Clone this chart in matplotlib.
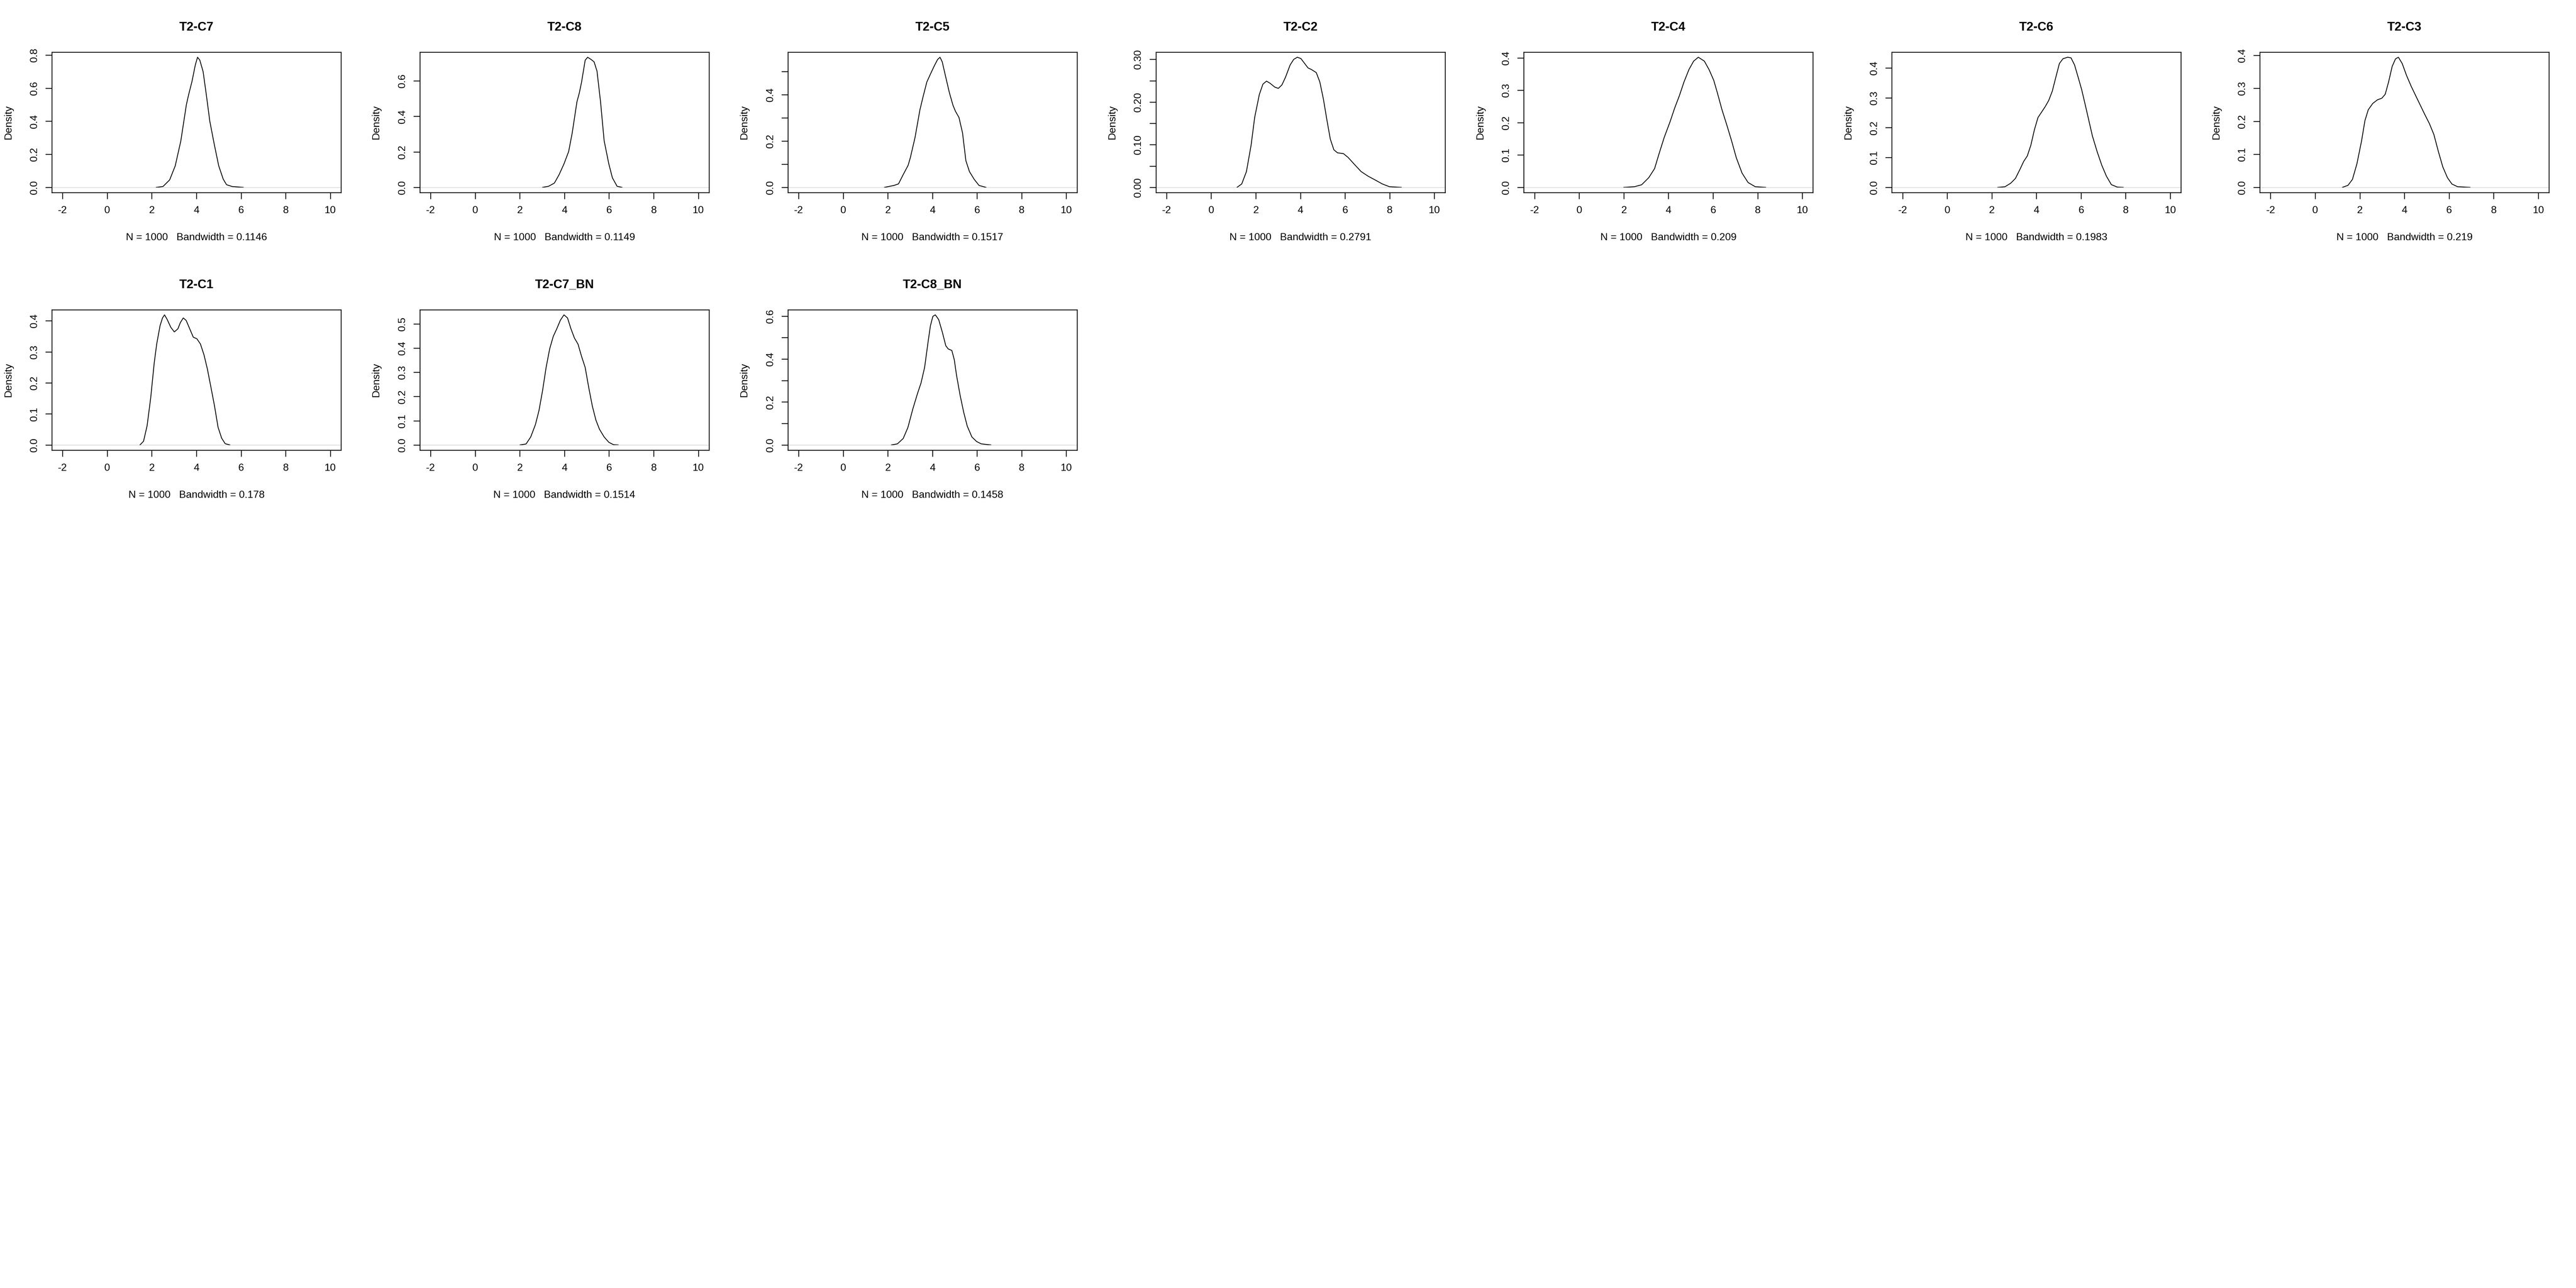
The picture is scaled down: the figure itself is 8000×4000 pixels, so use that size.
import matplotlib
matplotlib.use('Agg')
import matplotlib.pyplot as plt

plt.rcParams['font.family'] = ['Liberation Sans', 'DejaVu Sans']

names = ['T2-C7', 'T2-C8', 'T2-C5', 'T2-C2', 'T2-C4', 'T2-C6', 'T2-C3',
         'T2-C1', 'T2-C7_BN', 'T2-C8_BN']
n_obs = 1000
bandwidths = ['0.1146', '0.1149', '0.1517', '0.2791', '0.209', '0.1983', '0.219',
              '0.178', '0.1514', '0.1458']

# density curves
c7_x = [2.2, 2.5, 2.8, 3.05, 3.3, 3.55, 3.65, 3.8, 3.95, 4.05, 4.15, 4.3, 4.45, 4.6, 4.8, 5.0, 5.2, 5.35, 5.6, 6.1]
c7_y = [0.0, 0.005, 0.045, 0.13, 0.28, 0.5, 0.56, 0.64, 0.74, 0.787, 0.77, 0.70, 0.554, 0.40, 0.26, 0.13, 0.05, 0.016, 0.005, 0.0]

c8_x = [3.02, 3.29, 3.55, 3.76, 3.98, 4.19, 4.35, 4.56, 4.67, 4.77, 4.93, 5.04, 5.2, 5.33, 5.46, 5.62, 5.78, 5.99, 6.15, 6.36, 6.58]
c8_y = [0.0, 0.006, 0.024, 0.071, 0.132, 0.202, 0.307, 0.481, 0.533, 0.594, 0.716, 0.733, 0.72, 0.707, 0.655, 0.481, 0.263, 0.132, 0.054, 0.006, 0.0]

c5_x = [1.85, 2.27, 2.48, 2.69, 2.91, 3.01, 3.22, 3.44, 3.59, 3.75, 3.91, 4.07, 4.23, 4.34, 4.44, 4.6, 4.76, 4.92, 5.03, 5.19, 5.35, 5.5, 5.66, 5.87, 6.09, 6.4]
c5_y = [0.0, 0.008, 0.015, 0.055, 0.095, 0.128, 0.215, 0.335, 0.395, 0.455, 0.489, 0.522, 0.552, 0.562, 0.542, 0.475, 0.409, 0.355, 0.329, 0.302, 0.235, 0.115, 0.068, 0.035, 0.008, 0.0]

c2_x = [1.16, 1.37, 1.58, 1.79, 1.95, 2.16, 2.32, 2.48, 2.64, 2.85, 3.01, 3.17, 3.33, 3.54, 3.7, 3.86, 4.02, 4.18, 4.34, 4.5, 4.71, 4.87, 5.03, 5.19, 5.34, 5.5, 5.66, 5.93, 6.14, 6.4, 6.72, 7.04, 7.36, 7.67, 7.99, 8.52]
c2_y = [0.0, 0.008, 0.037, 0.099, 0.164, 0.218, 0.242, 0.249, 0.244, 0.235, 0.232, 0.24, 0.258, 0.287, 0.3, 0.305, 0.302, 0.291, 0.28, 0.276, 0.269, 0.247, 0.207, 0.157, 0.113, 0.088, 0.081, 0.079, 0.07, 0.055, 0.037, 0.026, 0.017, 0.008, 0.0015, 0.0]

c4_x = [2.0, 2.48, 2.8, 3.12, 3.38, 3.59, 3.81, 4.07, 4.28, 4.49, 4.7, 4.92, 5.13, 5.34, 5.61, 5.82, 6.03, 6.19, 6.4, 6.62, 6.83, 7.04, 7.3, 7.57, 7.89, 8.36]
c4_y = [0.0, 0.002, 0.008, 0.03, 0.058, 0.106, 0.154, 0.202, 0.245, 0.283, 0.326, 0.364, 0.39, 0.402, 0.39, 0.364, 0.331, 0.293, 0.24, 0.192, 0.144, 0.092, 0.044, 0.015, 0.002, 0.0]

c6_x = [2.27, 2.59, 2.85, 3.06, 3.28, 3.43, 3.59, 3.75, 3.91, 4.07, 4.23, 4.39, 4.55, 4.71, 4.87, 5.03, 5.19, 5.4, 5.55, 5.71, 5.87, 6.03, 6.19, 6.35, 6.51, 6.72, 6.93, 7.14, 7.36, 7.62, 7.89]
c6_y = [0.0, 0.002, 0.014, 0.03, 0.063, 0.087, 0.105, 0.141, 0.193, 0.234, 0.252, 0.27, 0.291, 0.322, 0.369, 0.415, 0.431, 0.436, 0.434, 0.41, 0.369, 0.327, 0.276, 0.224, 0.172, 0.12, 0.074, 0.037, 0.009, 0.001, 0.0]

c3_x = [1.22, 1.47, 1.67, 1.87, 2.08, 2.23, 2.38, 2.58, 2.79, 2.99, 3.14, 3.29, 3.45, 3.6, 3.73, 3.9, 4.1, 4.31, 4.51, 4.71, 4.91, 5.12, 5.32, 5.52, 5.72, 5.93, 6.13, 6.38, 6.94]
c3_y = [0.0, 0.006, 0.024, 0.071, 0.141, 0.202, 0.235, 0.254, 0.265, 0.27, 0.282, 0.319, 0.366, 0.389, 0.394, 0.375, 0.338, 0.305, 0.277, 0.249, 0.221, 0.193, 0.16, 0.109, 0.062, 0.029, 0.01, 0.002, 0.0]

c1_x = [1.47, 1.63, 1.79, 1.95, 2.11, 2.22, 2.37, 2.48, 2.57, 2.69, 2.85, 3.01, 3.17, 3.28, 3.41, 3.54, 3.7, 3.86, 4.02, 4.18, 4.34, 4.49, 4.65, 4.81, 4.97, 5.13, 5.29, 5.5]
c1_y = [0.0, 0.012, 0.062, 0.151, 0.265, 0.325, 0.384, 0.409, 0.419, 0.404, 0.379, 0.364, 0.374, 0.394, 0.409, 0.401, 0.374, 0.347, 0.342, 0.325, 0.29, 0.245, 0.186, 0.126, 0.057, 0.022, 0.004, 0.0]

c7bn_x = [2.01, 2.28, 2.49, 2.7, 2.86, 3.02, 3.18, 3.34, 3.5, 3.66, 3.82, 3.98, 4.14, 4.29, 4.45, 4.61, 4.77, 4.93, 5.09, 5.25, 5.41, 5.57, 5.78, 5.99, 6.2, 6.41]
c7bn_y = [0.0, 0.004, 0.033, 0.084, 0.142, 0.224, 0.32, 0.397, 0.448, 0.48, 0.515, 0.537, 0.524, 0.48, 0.441, 0.416, 0.365, 0.32, 0.237, 0.161, 0.103, 0.065, 0.033, 0.011, 0.001, 0.0]

c8bn_x = [2.16, 2.43, 2.69, 2.9, 3.12, 3.33, 3.49, 3.65, 3.81, 3.91, 4.02, 4.13, 4.28, 4.44, 4.6, 4.71, 4.87, 4.98, 5.08, 5.24, 5.4, 5.56, 5.77, 5.98, 6.19, 6.62]
c8bn_y = [0.0, 0.005, 0.03, 0.081, 0.167, 0.239, 0.289, 0.361, 0.483, 0.555, 0.599, 0.606, 0.584, 0.527, 0.462, 0.447, 0.44, 0.397, 0.325, 0.232, 0.153, 0.088, 0.037, 0.016, 0.005, 0.0]

curves_x = [c7_x, c8_x, c5_x, c2_x, c4_x, c6_x, c3_x, c1_x, c7bn_x, c8bn_x]
curves_y = [c7_y, c8_y, c5_y, c2_y, c4_y, c6_y, c3_y, c1_y, c7bn_y, c8bn_y]

xticks = [-2, 0, 2, 4, 6, 8, 10]
yticks = [
    [0, 0.2, 0.4, 0.6, 0.8],
    [0, 0.2, 0.4, 0.6],
    [0, 0.1, 0.2, 0.3, 0.4, 0.5],
    [0, 0.05, 0.10, 0.15, 0.20, 0.25, 0.30],
    [0, 0.1, 0.2, 0.3, 0.4],
    [0, 0.1, 0.2, 0.3, 0.4],
    [0, 0.1, 0.2, 0.3, 0.4],
    [0, 0.1, 0.2, 0.3, 0.4],
    [0, 0.1, 0.2, 0.3, 0.4, 0.5],
    [0, 0.1, 0.2, 0.3, 0.4, 0.5, 0.6],
]
ytick_labels = [
    ['0.0', '0.2', '0.4', '0.6', '0.8'],
    ['0.0', '0.2', '0.4', '0.6'],
    ['0.0', '', '0.2', '', '0.4', ''],
    ['0.00', '', '0.10', '', '0.20', '', '0.30'],
    ['0.0', '0.1', '0.2', '0.3', '0.4'],
    ['0.0', '0.1', '0.2', '0.3', '0.4'],
    ['0.0', '0.1', '0.2', '0.3', '0.4'],
    ['0.0', '0.1', '0.2', '0.3', '0.4'],
    ['0.0', '0.1', '0.2', '0.3', '0.4', '0.5'],
    ['0.0', '', '0.2', '', '0.4', '', '0.6'],
]

W, H = 8000, 4000
ncol, nrow = 7, 5
cell_w, cell_h = W / ncol, H / nrow
box_l, box_r, box_t, box_b = 161, 1059, 161.6, 598
box_w, box_h = box_r - box_l, box_b - box_t

fig = plt.figure(figsize=(W / 100, H / 100), dpi=100)
fs = 23

for i, name in enumerate(names):
    row, col = divmod(i, ncol)
    left = (col * cell_w + box_l) / W
    bottom = 1 - (row * cell_h + box_b) / H
    ax = fig.add_axes([left, bottom, box_w / W, box_h / H])

    x, y = curves_x[i], curves_y[i]
    ax.plot(x, y, color='black', lw=1.8)
    ax.axhline(0, color='#BEBEBE', lw=0.8)

    ymax = max(y)
    ax.set_xlim(-2 - 0.04 * 12, 10 + 0.04 * 12)
    ax.set_ylim(-0.04 * ymax, ymax * 1.04)
    ax.set_xticks(xticks)
    ax.set_xticklabels([str(t) for t in xticks])
    ax.set_yticks(yticks[i])
    ax.set_yticklabels(ytick_labels[i], rotation=90, va='center')

    for sp in ax.spines.values():
        sp.set_linewidth(1.8)
    ax.tick_params(direction='out', length=14.4, width=1.8, labelsize=fs)
    ax.tick_params(axis='x', pad=15)
    ax.tick_params(axis='y', pad=14)

    ax.text(0.5, 1 + 76.6 / box_h, name, transform=ax.transAxes, ha='center',
            va='center', fontsize=fs * 1.2, fontweight='bold')
    ax.text(0.5, -140 / box_h, 'N = %d   Bandwidth = %s' % (n_obs, bandwidths[i]),
            transform=ax.transAxes, ha='center', va='center', fontsize=fs)
    ax.text(-135 / box_w, 0.5, 'Density', transform=ax.transAxes, ha='center',
            va='center', rotation=90, fontsize=fs)

fig.savefig('out.png', dpi=100, facecolor='white')
